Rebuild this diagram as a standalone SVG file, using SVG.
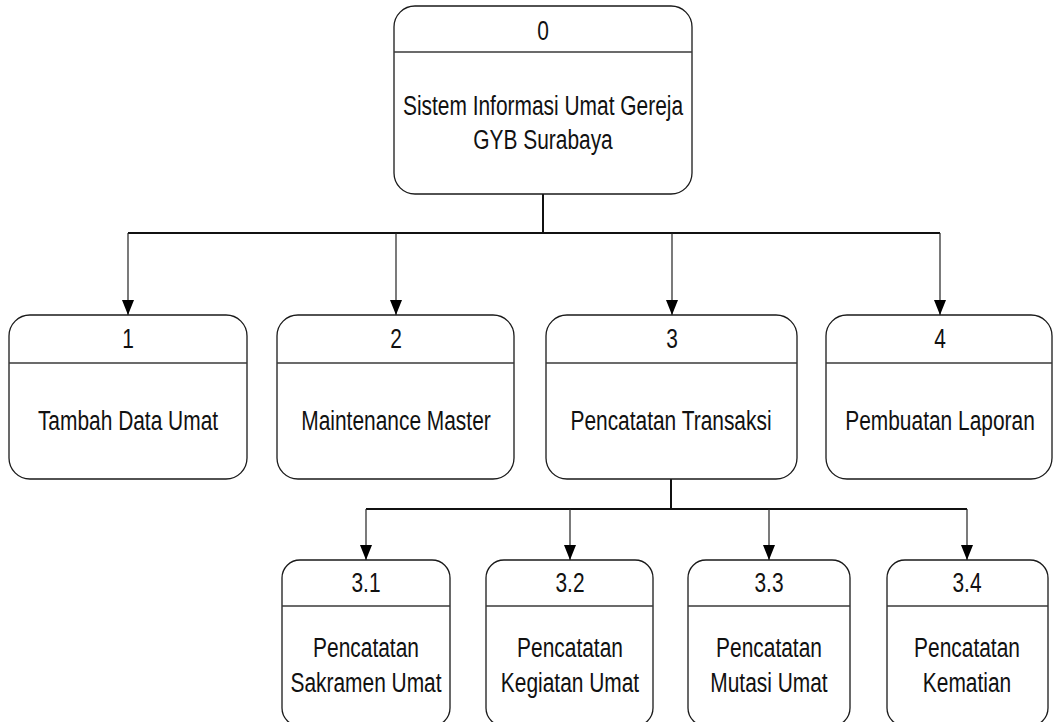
<svg xmlns="http://www.w3.org/2000/svg" width="1053" height="722" viewBox="0 0 1053 722">
<style>
.box{fill:#fff;stroke:#1a1a1a;stroke-width:1.3}
.div{stroke:#3a3a3a;stroke-width:1.6}
.t{font-family:"Liberation Sans",Arial,sans-serif;font-size:27px;fill:#111;text-anchor:middle}
.bus{fill:none;stroke:#111;stroke-width:2}
.drop{fill:none;stroke:#222;stroke-width:1.2}
</style>
<defs>
<marker id="ah" markerUnits="userSpaceOnUse" markerWidth="15" markerHeight="12" refX="15" refY="6" viewBox="0 0 15 12" orient="auto">
<path d="M0,0 L15,6 L0,12 Z" fill="#000"/>
</marker>
</defs>
<g id="connectors">
<path class="bus" d="M543,194 V233 M128,233 H940"/>
<path class="drop" d="M128,233 V315" marker-end="url(#ah)"/>
<path class="drop" d="M396,233 V315" marker-end="url(#ah)"/>
<path class="drop" d="M672,233 V315" marker-end="url(#ah)"/>
<path class="drop" d="M940,233 V315" marker-end="url(#ah)"/>
<path class="bus" d="M671,479 V509 M366,509 H967"/>
<path class="drop" d="M366,509 V560" marker-end="url(#ah)"/>
<path class="drop" d="M570,509 V560" marker-end="url(#ah)"/>
<path class="drop" d="M769,509 V560" marker-end="url(#ah)"/>
<path class="drop" d="M967,509 V560" marker-end="url(#ah)"/>
</g>
<g id="node0">
<rect class="box" x="394" y="6" width="298" height="188" rx="21"/>
<line class="div" x1="394" y1="52" x2="692" y2="52"/>
<text class="t" transform="translate(543 40) scale(0.775 1)">0</text>
<text class="t" transform="translate(543 115) scale(0.775 1)">Sistem Informasi Umat Gereja</text>
<text class="t" transform="translate(543 149) scale(0.775 1)">GYB Surabaya</text>
</g>
<g id="node1">
<rect class="box" x="9" y="315" width="238" height="164" rx="21"/>
<line class="div" x1="9" y1="363" x2="247" y2="363"/>
<text class="t" transform="translate(128 348) scale(0.775 1)">1</text>
<text class="t" transform="translate(128 430) scale(0.775 1)">Tambah Data Umat</text>
</g>
<g id="node2">
<rect class="box" x="277" y="315" width="237" height="164" rx="21"/>
<line class="div" x1="277" y1="363" x2="514" y2="363"/>
<text class="t" transform="translate(396 348) scale(0.775 1)">2</text>
<text class="t" transform="translate(396 430) scale(0.775 1)">Maintenance Master</text>
</g>
<g id="node3">
<rect class="box" x="546" y="315" width="251" height="164" rx="21"/>
<line class="div" x1="546" y1="363" x2="797" y2="363"/>
<text class="t" transform="translate(672 348) scale(0.775 1)">3</text>
<text class="t" transform="translate(671 430) scale(0.775 1)">Pencatatan Transaksi</text>
</g>
<g id="node4">
<rect class="box" x="826" y="315" width="226" height="164" rx="21"/>
<line class="div" x1="826" y1="363" x2="1052" y2="363"/>
<text class="t" transform="translate(940 348) scale(0.775 1)">4</text>
<text class="t" transform="translate(940 430) scale(0.775 1)">Pembuatan Laporan</text>
</g>
<g id="node3_1">
<rect class="box" x="282" y="560" width="168" height="166" rx="18"/>
<line class="div" x1="282" y1="606" x2="450" y2="606"/>
<text class="t" transform="translate(366 592) scale(0.775 1)">3.1</text>
<text class="t" transform="translate(366 657) scale(0.775 1)">Pencatatan</text>
<text class="t" transform="translate(366 692) scale(0.775 1)">Sakramen Umat</text>
</g>
<g id="node3_2">
<rect class="box" x="486" y="560" width="167" height="166" rx="18"/>
<line class="div" x1="486" y1="606" x2="653" y2="606"/>
<text class="t" transform="translate(570 592) scale(0.775 1)">3.2</text>
<text class="t" transform="translate(570 657) scale(0.775 1)">Pencatatan</text>
<text class="t" transform="translate(570 692) scale(0.775 1)">Kegiatan Umat</text>
</g>
<g id="node3_3">
<rect class="box" x="688" y="560" width="162" height="166" rx="18"/>
<line class="div" x1="688" y1="606" x2="850" y2="606"/>
<text class="t" transform="translate(769 592) scale(0.775 1)">3.3</text>
<text class="t" transform="translate(769 657) scale(0.775 1)">Pencatatan</text>
<text class="t" transform="translate(769 692) scale(0.775 1)">Mutasi Umat</text>
</g>
<g id="node3_4">
<rect class="box" x="887" y="560" width="161" height="166" rx="18"/>
<line class="div" x1="887" y1="606" x2="1048" y2="606"/>
<text class="t" transform="translate(967 592) scale(0.775 1)">3.4</text>
<text class="t" transform="translate(967 657) scale(0.775 1)">Pencatatan</text>
<text class="t" transform="translate(967 692) scale(0.775 1)">Kematian</text>
</g>
</svg>
